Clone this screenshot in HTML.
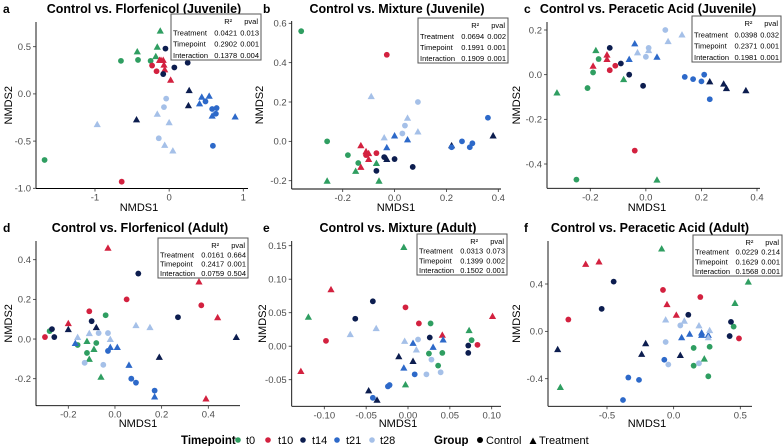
<!DOCTYPE html>
<html><head><meta charset="utf-8"><style>
body{margin:0;background:#fff;}
svg{display:block;font-family:"Liberation Sans",Arial,sans-serif;}
.tick{font-size:9.5px;fill:#4d4d4d;}
.ttl{font-size:12.5px;font-weight:bold;fill:#000;}
.lab{font-size:11px;fill:#000;}
.st{font-size:7.5px;fill:#000;}
</style></head><body>
<svg id="fig" width="783" height="446" viewBox="0 0 783 446" xmlns="http://www.w3.org/2000/svg">
<g font-size="11">
<text x="181" y="444" font-weight="bold" font-size="11.5">Timepoint</text>
<circle cx="238" cy="440" r="2.8" fill="#2f9e61"/><text x="246" y="444">t0</text>
<circle cx="268" cy="440" r="2.8" fill="#d3213f"/><text x="278" y="444">t10</text>
<circle cx="303" cy="440" r="2.8" fill="#0c1d4f"/><text x="312" y="444">t14</text>
<circle cx="337" cy="440" r="2.8" fill="#2d69c9"/><text x="346" y="444">t21</text>
<circle cx="372" cy="440" r="2.8" fill="#a5c0e8"/><text x="380" y="444">t28</text>
<text x="434" y="444" font-weight="bold" font-size="11.5">Group</text>
<circle cx="480" cy="440" r="3" fill="#000"/><text x="486" y="444">Control</text>
<path d="M529.5,444 L533,437.5 L536.5,444 Z" fill="#000"/><text x="539" y="444">Treatment</text>
</g>
</svg>
<script>
const colors = {t0:"#2f9e61",t10:"#d3213f",t14:"#0c1d4f",t21:"#2d69c9",t28:"#a5c0e8"};
const pointsA = [[-0.65,0.35,"t0","C"],[-0.42,0.36,"t0","C"],[-0.25,0.35,"t0","C"],[-1.68,-0.70,"t0","C"],
[-0.12,0.67,"t0","T"],[-0.43,0.45,"t0","T"],[-0.16,0.50,"t0","T"],[-0.18,0.40,"t0","T"],
[-0.23,0.30,"t10","C"],[-0.17,0.24,"t10","C"],[-0.64,-0.93,"t10","C"],
[-0.13,0.36,"t10","T"],[-0.08,0.36,"t10","T"],[-0.07,0.31,"t10","T"],[-0.06,0.26,"t10","T"],[0.02,0.15,"t10","T"],[-0.11,0.36,"t10","T"],
[-0.05,0.48,"t14","C"],[-0.08,0.21,"t14","C"],[0.07,0.28,"t14","C"],[0.25,0.33,"t14","C"],
[0.27,0.04,"t14","T"],[0.26,-0.12,"t14","T"],[-0.44,-0.27,"t14","T"],
[0.49,-0.08,"t21","C"],[0.58,-0.16,"t21","C"],[0.64,-0.15,"t21","C"],[0.63,-0.21,"t21","C"],[0.59,-0.55,"t21","C"],
[0.44,-0.03,"t21","T"],[0.54,-0.02,"t21","T"],[0.41,-0.10,"t21","T"],[0.58,-0.23,"t21","T"],[0.89,-0.24,"t21","T"],
[-0.04,-0.05,"t28","C"],[-0.07,-0.14,"t28","C"],[-0.14,-0.47,"t28","C"],
[-0.97,-0.32,"t28","T"],[-0.16,-0.21,"t28","T"],[0.00,-0.30,"t28","T"],[-0.06,-0.54,"t28","T"],[0.05,-0.60,"t28","T"]];
const pointsB = [[-0.36,0.56,"t0","C"],[-0.26,0.00,"t0","C"],[-0.18,-0.07,"t0","C"],[-0.14,-0.11,"t0","C"],
[-0.26,-0.20,"t0","T"],[-0.15,-0.15,"t0","T"],[-0.07,-0.11,"t0","T"],[-0.06,-0.20,"t0","T"],
[-0.03,0.44,"t10","C"],[-0.07,-0.06,"t10","C"],[-0.11,-0.07,"t10","C"],
[-0.13,-0.02,"t10","T"],[-0.11,-0.05,"t10","T"],[-0.10,-0.06,"t10","T"],[-0.10,-0.09,"t10","T"],[-0.13,-0.13,"t10","T"],
[-0.04,-0.08,"t14","C"],[0.00,-0.09,"t14","C"],[0.07,-0.13,"t14","C"],[-0.07,-0.15,"t14","C"],
[-0.03,-0.09,"t14","T"],[0.22,-0.02,"t14","T"],[0.38,0.03,"t14","T"],
[0.36,0.12,"t21","C"],[0.22,-0.03,"t21","C"],[0.26,0.00,"t21","C"],[0.30,-0.01,"t21","C"],[0.29,-0.03,"t21","C"],
[0.00,0.03,"t21","T"],[-0.03,-0.03,"t21","T"],[0.05,0.01,"t21","T"],
[0.09,0.20,"t28","C"],[0.04,0.08,"t28","C"],[0.03,0.04,"t28","C"],
[-0.09,0.23,"t28","T"],[0.05,0.12,"t28","T"],[0.09,0.05,"t28","T"],[-0.04,0.02,"t28","T"]];
const pointsC = [[-0.17,0.07,"t0","C"],[-0.19,0.01,"t0","C"],[-0.21,-0.06,"t0","C"],[-0.25,-0.47,"t0","C"],
[-0.18,0.11,"t0","T"],[-0.32,-0.08,"t0","T"],[-0.08,-0.02,"t0","T"],[0.04,-0.47,"t0","T"],
[-0.13,0.02,"t10","C"],[-0.11,0.04,"t10","C"],[-0.04,-0.34,"t10","C"],
[-0.14,0.09,"t10","T"],[-0.14,0.07,"t10","T"],[-0.19,0.04,"t10","T"],
[-0.13,0.12,"t14","C"],[-0.09,0.05,"t14","C"],[-0.06,0.00,"t14","C"],[-0.01,-0.05,"t14","C"],
[0.23,-0.03,"t14","T"],[0.28,-0.04,"t14","T"],[0.29,-0.06,"t14","T"],[0.36,-0.07,"t14","T"],
[0.14,-0.01,"t21","C"],[0.17,-0.02,"t21","C"],[0.20,-0.03,"t21","C"],[0.21,0.00,"t21","C"],[0.23,-0.11,"t21","C"],
[-0.04,0.14,"t21","T"],[-0.06,0.07,"t21","T"],[0.04,0.08,"t21","T"],
[0.07,0.20,"t28","C"],[0.01,0.12,"t28","C"],[0.00,0.08,"t28","C"],
[0.13,0.18,"t28","T"],[0.08,0.15,"t28","T"],[-0.03,0.10,"t28","T"],[0.01,0.11,"t28","T"]];
const pointsD = [[-0.04,0.12,"t0","C"],[-0.08,-0.02,"t0","C"],[-0.16,-0.03,"t0","C"],[-0.12,-0.07,"t0","C"],[-0.28,0.04,"t0","C"],
[-0.12,-0.01,"t0","T"],[-0.09,-0.05,"t0","T"],[-0.11,-0.10,"t0","T"],[-0.06,-0.19,"t0","T"],
[0.05,0.20,"t10","C"],[-0.11,0.14,"t10","C"],[0.37,0.17,"t10","C"],[-0.30,0.01,"t10","C"],
[-0.03,0.46,"t10","T"],[0.36,0.29,"t10","T"],[0.44,0.11,"t10","T"],[-0.20,0.08,"t10","T"],[0.39,-0.30,"t10","T"],
[0.10,0.33,"t14","C"],[-0.10,0.09,"t14","C"],[-0.27,0.05,"t14","C"],[-0.26,0.01,"t14","C"],[0.27,0.11,"t14","C"],
[-0.20,0.05,"t14","T"],[-0.08,0.06,"t14","T"],[0.52,0.01,"t14","T"],[0.19,-0.09,"t14","T"],
[-0.03,-0.06,"t21","C"],[0.07,-0.20,"t21","C"],[0.09,-0.22,"t21","C"],[0.17,-0.26,"t21","C"],
[-0.17,-0.02,"t21","T"],[-0.02,-0.04,"t21","T"],[0.01,-0.04,"t21","T"],[0.06,-0.13,"t21","T"],[0.17,-0.29,"t21","T"],
[-0.07,0.03,"t28","C"],[-0.03,0.03,"t28","C"],[-0.13,-0.12,"t28","C"],[-0.05,-0.13,"t28","C"],
[-0.16,0.01,"t28","T"],[-0.11,0.03,"t28","T"],[-0.02,0.00,"t28","T"],[0.09,0.07,"t28","T"],[0.15,0.06,"t28","T"]];
const pointsE = [[0.027,0.034,"t0","C"],[0.025,-0.011,"t0","C"],[0.041,-0.010,"t0","C"],[0.036,-0.029,"t0","C"],[0.076,0.009,"t0","C"],
[-0.005,0.148,"t0","T"],[-0.119,0.044,"t0","T"],[0.073,0.024,"t0","T"],[-0.003,-0.057,"t0","T"],
[-0.003,0.058,"t10","C"],[-0.098,0.008,"t10","C"],[0.013,0.034,"t10","C"],[0.083,0.002,"t10","C"],
[-0.092,0.085,"t10","T"],[-0.128,-0.037,"t10","T"],[0.041,0.017,"t10","T"],[0.101,0.045,"t10","T"],
[-0.042,0.067,"t14","C"],[-0.063,0.041,"t14","C"],[0.026,0.013,"t14","C"],[0.072,0.001,"t14","C"],[0.072,-0.010,"t14","C"],
[-0.011,-0.015,"t14","T"],[0.006,-0.022,"t14","T"],[-0.047,-0.066,"t14","T"],[-0.037,-0.080,"t14","T"],
[0.008,-0.042,"t21","C"],[-0.024,-0.060,"t21","C"],[-0.022,-0.058,"t21","C"],[-0.042,-0.077,"t21","C"],
[-0.005,-0.032,"t21","T"],[0.006,0.005,"t21","T"],[0.030,-0.001,"t21","T"],[0.042,0.010,"t21","T"],
[0.012,0.010,"t28","C"],[0.028,-0.020,"t28","C"],[0.022,-0.042,"t28","C"],[0.039,-0.039,"t28","C"],
[-0.069,0.018,"t28","T"],[-0.038,0.027,"t28","T"],[-0.004,0.008,"t28","T"],[0.010,-0.005,"t28","T"]];
const pointsF = [[0.45,0.04,"t0","C"],[0.15,-0.14,"t0","C"],[0.27,-0.13,"t0","C"],[0.15,-0.29,"t0","C"],[0.26,-0.38,"t0","C"],
[-0.09,0.70,"t0","T"],[0.56,0.42,"t0","T"],[0.46,0.24,"t0","T"],[0.23,-0.23,"t0","T"],[-0.85,-0.47,"t0","T"],
[-0.79,0.10,"t10","C"],[-0.08,0.35,"t10","C"],[0.20,0.29,"t10","C"],[0.49,-0.06,"t10","C"],
[-0.66,0.57,"t10","T"],[-0.56,0.59,"t10","T"],[-0.05,0.23,"t10","T"],[0.02,0.14,"t10","T"],
[-0.45,0.42,"t14","C"],[-0.54,0.19,"t14","C"],[0.11,0.14,"t14","C"],[0.43,0.08,"t14","C"],[0.42,-0.04,"t14","C"],
[-0.87,-0.15,"t14","T"],[-0.21,-0.10,"t14","T"],[-0.24,-0.19,"t14","T"],[0.05,-0.20,"t14","T"],
[-0.07,-0.24,"t21","C"],[-0.34,-0.39,"t21","C"],[-0.26,-0.41,"t21","C"],[-0.38,-0.58,"t21","C"],
[0.06,-0.05,"t21","T"],[0.12,-0.02,"t21","T"],[0.21,-0.01,"t21","T"],[0.21,-0.03,"t21","T"],[0.26,-0.03,"t21","T"],
[-0.06,-0.09,"t28","C"],[0.05,0.05,"t28","C"],[-0.04,-0.28,"t28","C"],[0.19,-0.27,"t28","C"],
[-0.06,0.10,"t28","T"],[0.08,0.09,"t28","T"],[0.19,0.05,"t28","T"],[0.27,0.01,"t28","T"],[0.26,-0.05,"t28","T"]];
const xTicksA=[-1,0,1], yTicksA=[0.5,0,-0.5,-1];
const xTicksB=[-0.2,0,0.2,0.4], yTicksB=[0.6,0.4,0.2,0,-0.2];
const xTicksC=[-0.2,0,0.2,0.4], yTicksC=[0.2,0,-0.2,-0.4];
const xTicksD=[-0.2,0,0.2,0.4], yTicksD=[0.4,0.2,0,-0.2];
const xTicksE=[-0.1,-0.05,0,0.05,0.1], yTicksE=[0.15,0.1,0.05,0,-0.05];
const xTicksF=[-0.5,0,0.5], yTicksF=[0.4,0,-0.4];
const statsA=[["Treatment","0.0421","0.013"],["Timepoint","0.2902","0.001"],["Interaction","0.1378","0.004"]];
const statsB=[["Treatment","0.0694","0.002"],["Timepoint","0.1991","0.001"],["Interaction","0.1909","0.001"]];
const statsC=[["Treatment","0.0398","0.032"],["Timepoint","0.2371","0.001"],["Interaction","0.1981","0.001"]];
const statsD=[["Treatment","0.0161","0.664"],["Timepoint","0.2417","0.001"],["Interaction","0.0759","0.504"]];
const statsE=[["Treatment","0.0313","0.073"],["Timepoint","0.1399","0.002"],["Interaction","0.1502","0.001"]];
const statsF=[["Treatment","0.0229","0.214"],["Timepoint","0.1629","0.001"],["Interaction","0.1568","0.001"]];

const NS="http://www.w3.org/2000/svg";
const svg=document.getElementById('fig');
function mk(tag,attrs,parent,text){const e=document.createElementNS(NS,tag);for(const k in attrs)e.setAttribute(k,attrs[k]);if(text!==undefined)e.textContent=text;parent.appendChild(e);return e;}
function fmt(v,d){let s=v.toFixed(d);if(/^-0\.?0*$/.test(s))s=s.slice(1);return s;}

const panels=[
{id:"a",title:"Control vs. Florfenicol (Juvenile)",pts:pointsA,xt:xTicksA,yt:yTicksA,st:statsA,xd:0,yd:1,
 xm:[-1,95,1,243.3],ym:[0.5,46.7,-1,188.3],L:36,B:188.5,T:22,R:248,tx:144,ty:13,lx:3,ylx:8,xlx:139,xly:211,box:[171,14,90,46]},
{id:"b",title:"Control vs. Mixture (Juvenile)",pts:pointsB,xt:xTicksB,yt:yTicksB,st:statsB,xd:1,yd:1,
 xm:[-0.2,342.7,0.4,498.3],ym:[0.6,23.3,-0.2,180.7],L:291.7,B:189,T:21,R:501,tx:397,ty:13,lx:263,ylx:259,xlx:396,xly:211,box:[418,18,90,45]},
{id:"c",title:"Control vs. Peracetic Acid (Juvenile)",pts:pointsC,xt:xTicksC,yt:yTicksC,st:statsC,xd:1,yd:1,
 xm:[-0.2,590.3,0.4,757],ym:[0.2,30,-0.4,164],L:547,B:188.3,T:22,R:760,tx:648,ty:13,lx:524,ylx:516,xlx:647,xly:211,box:[692,16,89,46]},
{id:"d",title:"Control vs. Florfenicol (Adult)",pts:pointsD,xt:xTicksD,yt:yTicksD,st:statsD,xd:1,yd:1,
 xm:[-0.2,68.3,0.4,208.3],ym:[0.4,259.7,-0.2,378.7],L:36,B:405.7,T:241,R:240,tx:140,ty:232,lx:3,ylx:8,xlx:138,xly:427,box:[158,238,90,40]},
{id:"e",title:"Control vs. Mixture (Adult)",pts:pointsE,xt:xTicksE,yt:yTicksE,st:statsE,xd:2,yd:2,
 xm:[-0.1,324.3,0.1,491.7],ym:[0.15,245.7,-0.05,379.7],L:291.7,B:406.3,T:241,R:501,tx:398,ty:232,lx:263,ylx:262,xlx:398,xly:427,box:[417,234,90,41]},
{id:"f",title:"Control vs. Peracetic Acid (Adult)",pts:pointsF,xt:xTicksF,yt:yTicksF,st:statsF,xd:1,yd:1,
 xm:[-0.5,607,0.5,740.3],ym:[0.4,284,-0.4,378.7],L:548,B:406.3,T:241,R:752,tx:650,ty:232,lx:524,ylx:516,xlx:647,xly:427,box:[693,235,89,41]}
];

panels.forEach(p=>{
  const g=mk('g',{},svg);
  
  
  const sx=v=>p.xm[1]+(v-p.xm[0])*(p.xm[3]-p.xm[1])/(p.xm[2]-p.xm[0]);
  const sy=v=>p.ym[1]+(v-p.ym[0])*(p.ym[3]-p.ym[1])/(p.ym[2]-p.ym[0]);
  const lt=mk('text',{x:p.lx,y:p.ty,"font-weight":"bold","font-size":"12"},g,p.id);
  
  
  const tt=mk('text',{x:p.tx,y:p.ty,class:"ttl","text-anchor":"middle"},g,p.title);
  
  
  const xa=mk('line',{x1:p.L,y1:p.B,x2:p.R,y2:p.B,stroke:"#000","stroke-width":"0.9"},g);
  
  
  const ya=mk('line',{x1:p.L,y1:p.T,x2:p.L,y2:p.B,stroke:"#000","stroke-width":"0.9"},g);
  
  
  p.xt.forEach(v=>{
    const x=sx(v);
    mk('line',{x1:x,y1:p.B,x2:x,y2:p.B+3,stroke:"#333","stroke-width":"0.8"},g);
    const t=mk('text',{x:x,y:p.B+12,class:"tick","text-anchor":"middle"},g,fmt(v,p.xd));
    
    
  });
  p.yt.forEach(v=>{
    const y=sy(v);
    mk('line',{x1:p.L-3,y1:y,x2:p.L,y2:y,stroke:"#333","stroke-width":"0.8"},g);
    const t=mk('text',{x:p.L-5,y:y+3.3,class:"tick","text-anchor":"end"},g,fmt(v,p.yd));
    
    
  });
  const xl=mk('text',{x:p.xlx,y:p.xly,class:"lab","text-anchor":"middle"},g,"NMDS1");
  
  
  const ycy=(p.T+p.B)/2;
  const yl=mk('text',{x:p.ylx,y:ycy,class:"lab","text-anchor":"middle",transform:`rotate(-90 ${p.ylx} ${ycy})`,dy:"4"},g,"NMDS2");
  
  
  p.pts.forEach(d=>{
    const x=sx(d[0]),y=sy(d[1]),c=colors[d[2]];
    let m;
    if(d[3]==="C"){m=mk('circle',{cx:x,cy:y,r:2.9,fill:c},g);}
    else{m=mk('path',{d:`M${x-3.6},${y+3} L${x},${y-3.4} L${x+3.6},${y+3} Z`,fill:c},g);}
    
    
  });
  const [bx,by,bw,bh]=p.box;
  const bg=mk('g',{},g);
  
  
  mk('rect',{x:bx,y:by,width:bw,height:bh,fill:"#fff",stroke:"#555","stroke-width":"1"},bg);
  const rh=(bh-12)/3;
  const c1=bx+bw*0.735, c2=bx+bw-2;
  mk('text',{x:c1-5,y:by+10,class:"st","text-anchor":"end"},bg,"R\u00B2");
  mk('text',{x:c2-1,y:by+10,class:"st","text-anchor":"end"},bg,"pval");
  p.st.forEach((r,i)=>{
    const y=by+12+rh*(i+1)-2;
    mk('text',{x:bx+2,y:y,class:"st"},bg,r[0]);
    mk('text',{x:c1,y:y,class:"st","text-anchor":"end"},bg,r[1]);
    mk('text',{x:c2,y:y,class:"st","text-anchor":"end"},bg,r[2]);
  });
});
</script>
</body></html>
